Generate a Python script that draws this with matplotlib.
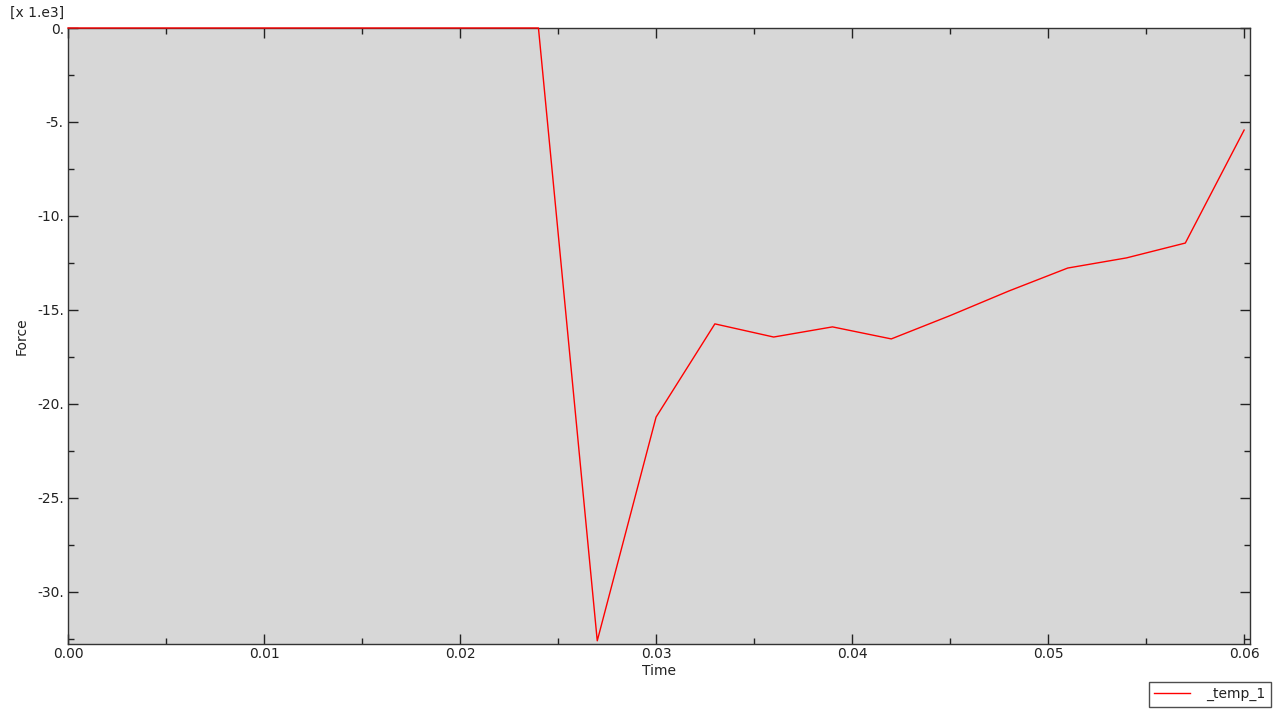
import numpy as np
import matplotlib
matplotlib.use('Agg')
import matplotlib.pyplot as plt
from matplotlib.ticker import MultipleLocator, FuncFormatter

# Force history (values in units of 1e3)
time = [0.000, 0.003, 0.006, 0.009, 0.012, 0.015, 0.018, 0.021, 0.024,
        0.027, 0.030, 0.033, 0.036, 0.039, 0.042, 0.045, 0.048, 0.051,
        0.054, 0.057, 0.060]
force = [0.0, 0.0, 0.0, 0.0, 0.0, 0.0, 0.0, 0.0, 0.0,
         -32.6, -20.7, -15.74, -16.44, -15.9, -16.54, -15.3, -13.99, -12.77,
         -12.23, -11.44, -5.43]
series_name = "_temp_1"

plt.rcParams['font.family'] = ['DejaVu Sans']
plt.rcParams['font.size'] = 10

fig = plt.figure(figsize=(12.74, 7.09), dpi=100)
ax = fig.add_axes([68 / 1274, 1 - 644 / 709, (1250 - 68) / 1274, (644 - 28) / 709])
ax.set_facecolor('#d7d7d7')

line, = ax.plot(time, force, color='#ff0000', linewidth=1.0, clip_on=False, zorder=5)

ax.set_xlim(0, 0.0603)
ax.set_ylim(-32.77, 0)

ax.xaxis.set_major_locator(MultipleLocator(0.01))
ax.xaxis.set_minor_locator(MultipleLocator(0.005))
ax.yaxis.set_major_locator(MultipleLocator(5))
ax.yaxis.set_minor_locator(MultipleLocator(2.5))
ax.xaxis.set_major_formatter(FuncFormatter(lambda v, p: f"{v:.2f}"))
ax.yaxis.set_major_formatter(FuncFormatter(lambda v, p: f"{int(round(v))}."))

ax.tick_params(which='both', direction='in', top=True, right=True, colors='#222222',
               labelcolor='#222222', labelsize=10)
ax.tick_params(which='major', length=7, width=1)
ax.tick_params(which='minor', length=4, width=1)
ax.tick_params(axis='x', pad=2)
ax.tick_params(axis='y', pad=3)
for s in ax.spines.values():
    s.set_color('#333333')
    s.set_linewidth(1.0)

ax.set_xlabel('Time', fontsize=10, color='#222222', labelpad=2)
ax.set_ylabel('Force', fontsize=10, color='#222222', labelpad=6)

fig.text(10 / 1274, 1 - 13 / 709, '[x 1.e3]', fontsize=10, color='#222222',
         ha='left', va='center')

# label starts with "_", so hand it to the legend explicitly
leg = fig.legend([line], [series_name], loc='lower right',
                 bbox_to_anchor=(1271 / 1274, 1 - 707 / 709),
                 frameon=True, fancybox=False, fontsize=10, handlelength=2.6,
                 handletextpad=1.15, borderpad=0.4, borderaxespad=0)
leg.get_frame().set_edgecolor('#222222')
leg.get_frame().set_linewidth(1.0)
for t in leg.get_texts():
    t.set_color('#222222')

fig.savefig('out.png', dpi=100, facecolor='white')
plt.close(fig)
